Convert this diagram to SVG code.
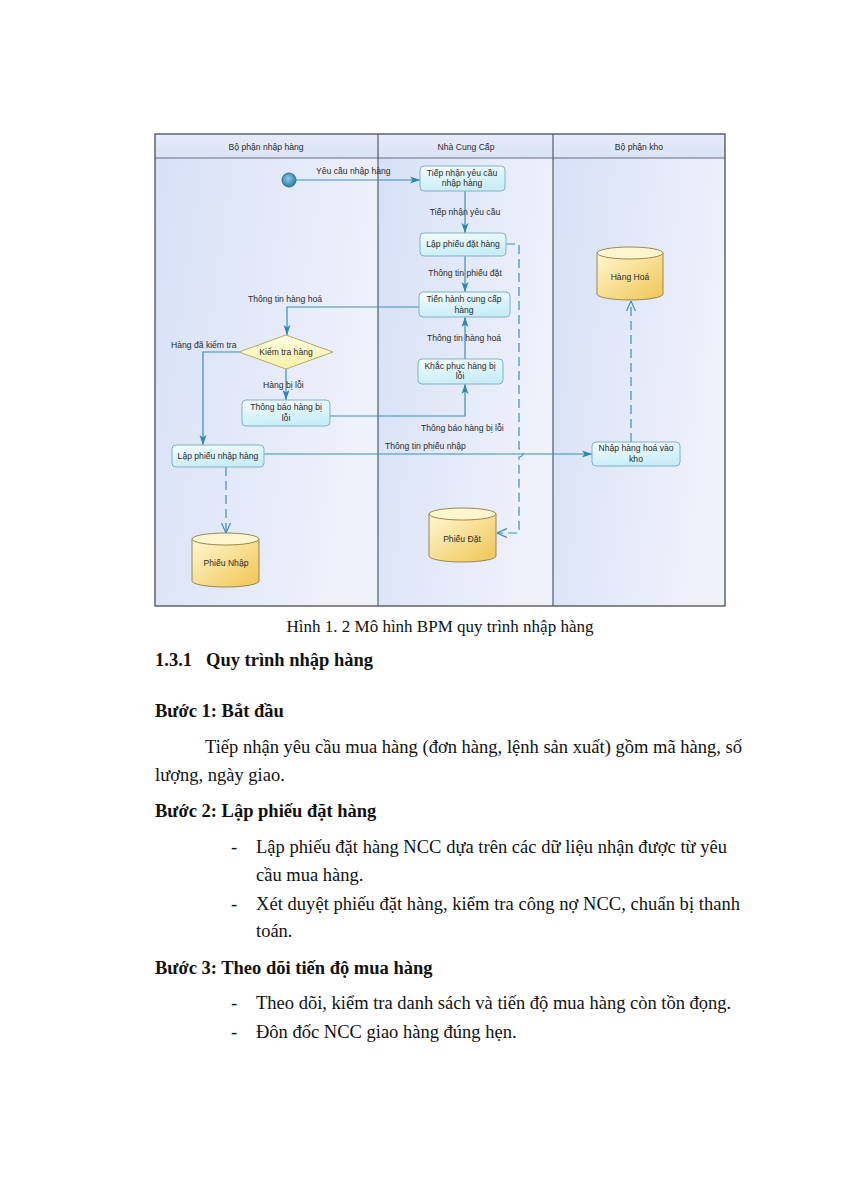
<svg xmlns="http://www.w3.org/2000/svg" width="848" height="1200" viewBox="0 0 848 1200">
<style>
.lbl{font-family:"Liberation Sans","DejaVu Sans",sans-serif;font-size:8.6px;fill:#2b2b2b}
.c{text-anchor:middle}
.box{fill:url(#gBox);stroke:#7fb2c6;stroke-width:1}
.cyl{fill:url(#gCyl);stroke:#8f7d3e;stroke-width:0.9}
.cyltop{fill:#fff6cf;stroke:#8f7d3e;stroke-width:0.9}
.ln{fill:none;stroke:#3a8fb7;stroke-width:1.2}
.dash{fill:none;stroke:#3a8fb7;stroke-width:1.2;stroke-dasharray:9,5}
.doc{font-family:"Liberation Serif","Times New Roman",serif;font-size:18.5px;fill:#111}
.b{font-weight:bold}
</style>
<defs>
<linearGradient id="gLane" x1="0" y1="0" x2="1" y2="0.3">
<stop offset="0" stop-color="#d6e0f6"/><stop offset="1" stop-color="#eff1fb"/>
</linearGradient>
<linearGradient id="gHead" x1="0" y1="0" x2="0" y2="1">
<stop offset="0" stop-color="#e6ebf9"/><stop offset="1" stop-color="#dae2f5"/>
</linearGradient>
<linearGradient id="gBox" x1="0" y1="0" x2="0.3" y2="1">
<stop offset="0" stop-color="#f6fdff"/><stop offset="1" stop-color="#c8edf7"/>
</linearGradient>
<linearGradient id="gCyl" x1="0" y1="0" x2="1" y2="1">
<stop offset="0" stop-color="#fff7d2"/><stop offset="1" stop-color="#f0c553"/>
</linearGradient>
<linearGradient id="gDia" x1="0" y1="0" x2="0" y2="1">
<stop offset="0" stop-color="#fffde0"/><stop offset="1" stop-color="#f8f0a8"/>
</linearGradient>
<radialGradient id="gStart" cx="0.45" cy="0.4" r="0.6">
<stop offset="0" stop-color="#8fcbe0"/><stop offset="1" stop-color="#2c7aa3"/>
</radialGradient>
<marker id="arr" viewBox="0 0 10 8" refX="10" refY="4" markerWidth="10" markerHeight="8" markerUnits="userSpaceOnUse" orient="auto">
<path d="M0,0.5 L10,4 L0,7.5 L2.5,4 Z" fill="#2a86b3"/>
</marker>
<marker id="open" viewBox="0 0 10 10" refX="10" refY="5" markerWidth="10" markerHeight="10" markerUnits="userSpaceOnUse" orient="auto">
<path d="M0,0.5 L10,5 L0,9.5" fill="none" stroke="#3a8fb7" stroke-width="1.2"/>
</marker>
</defs>
<rect x="0" y="0" width="848" height="1200" fill="#ffffff"/>

<g id="pool">
<rect x="155" y="134" width="223" height="472" fill="url(#gLane)"/>
<rect x="378" y="134" width="175" height="472" fill="url(#gLane)"/>
<rect x="553" y="134" width="172" height="472" fill="url(#gLane)"/>
<rect x="155" y="134" width="570" height="24" fill="url(#gHead)"/>
<line x1="155" y1="158" x2="725" y2="158" stroke="#6a6f80" stroke-width="1"/>
<line x1="378" y1="134" x2="378" y2="606" stroke="#555a66" stroke-width="1.2"/>
<line x1="553" y1="134" x2="553" y2="606" stroke="#555a66" stroke-width="1.2"/>
<rect x="155" y="134" width="570" height="472" fill="none" stroke="#4a4d55" stroke-width="1.3"/>
<text class="lbl c" x="266" y="150">Bộ phận nhập hàng</text>
<text class="lbl c" x="466" y="150">Nhà Cung Cấp</text>
<text class="lbl c" x="639" y="150">Bộ phận kho</text>
</g>

<g id="connectors">
<path class="ln" d="M296,180 H420" marker-end="url(#arr)"/>
<path class="ln" d="M465,191 V233" marker-end="url(#arr)"/>
<path class="ln" d="M465,256 V292" marker-end="url(#arr)"/>
<path class="ln" d="M419,307 H287 V335" marker-end="url(#arr)"/>
<path class="ln" d="M239,352 H203 V445" marker-end="url(#arr)"/>
<path class="ln" d="M286,369 V400" marker-end="url(#arr)"/>
<path class="ln" d="M330,416 H465 V384" marker-end="url(#arr)"/>
<path class="ln" d="M465,359 V317" marker-end="url(#arr)"/>
<path class="ln" d="M264,454 H592" marker-end="url(#arr)"/>
<path class="dash" d="M506,244 H519 V449 A4,4 0 0 1 519,457 V533 H497" marker-end="url(#open)"/>
<path class="dash" d="M226,467 V533" marker-end="url(#open)"/>
<path class="dash" d="M631,442 V301" marker-end="url(#open)"/>
<text class="lbl" x="316" y="174">Yêu cầu nhập hàng</text>
<text class="lbl c" x="465" y="215">Tiếp nhận yêu cầu</text>
<text class="lbl c" x="465" y="276">Thông tin phiếu đặt</text>
<text class="lbl" x="248" y="302">Thông tin hàng hoá</text>
<text class="lbl" x="171" y="348">Hàng đã kiểm tra</text>
<text class="lbl" x="263" y="388">Hàng bị lỗi</text>
<text class="lbl" x="427" y="341">Thông tin hàng hoá</text>
<text class="lbl" x="421" y="431">Thông báo hàng bị lỗi</text>
<text class="lbl" x="385" y="449">Thông tin phiếu nhập</text>
</g>

<g id="start">
<circle cx="289" cy="180" r="7" fill="url(#gStart)" stroke="#2a7099" stroke-width="1"/>
</g>

<g id="n1">
<rect class="box" x="420" y="166" width="85" height="25" rx="4"/>
<text class="lbl c" x="462" y="176">Tiếp nhận yêu cầu</text>
<text class="lbl c" x="462" y="186">nhập hàng</text>
</g>
<g id="n2">
<rect class="box" x="420" y="233" width="86" height="23" rx="4"/>
<text class="lbl c" x="463" y="247">Lập phiếu đặt hàng</text>
</g>
<g id="n3">
<rect class="box" x="419" y="292" width="91" height="25" rx="4"/>
<text class="lbl c" x="464" y="302">Tiến hành cung cấp</text>
<text class="lbl c" x="464" y="313">hàng</text>
</g>
<g id="n4">
<rect class="box" x="418" y="359" width="85" height="25" rx="4"/>
<text class="lbl c" x="460" y="369">Khắc phục hàng bị</text>
<text class="lbl c" x="460" y="379">lỗi</text>
</g>
<g id="n5">
<polygon points="286,335 333,352 286,369 239,352" fill="url(#gDia)" stroke="#b5ad6c" stroke-width="1"/>
<text class="lbl c" x="286" y="355">Kiểm tra hàng</text>
</g>
<g id="n6">
<rect class="box" x="242" y="400" width="88" height="26" rx="4"/>
<text class="lbl c" x="286" y="410">Thông báo hàng bị</text>
<text class="lbl c" x="286" y="421">lỗi</text>
</g>
<g id="n7">
<rect class="box" x="172" y="445" width="92" height="22" rx="4"/>
<text class="lbl c" x="218" y="459">Lập phiếu nhập hàng</text>
</g>
<g id="n8">
<rect class="box" x="592" y="442" width="88" height="24" rx="4"/>
<text class="lbl c" x="636" y="451">Nhập hàng hoá vào</text>
<text class="lbl c" x="636" y="462">kho</text>
</g>
<g id="d1">
<path class="cyl" d="M597,253 V294 A33,6 0 0 0 663,294 V253 Z"/>
<ellipse class="cyltop" cx="630" cy="253" rx="33" ry="6"/>
<text class="lbl c" x="630" y="280">Hàng Hoá</text>
</g>
<g id="d2">
<path class="cyl" d="M192,539 V581 A33.5,6 0 0 0 259,581 V539 Z"/>
<ellipse class="cyltop" cx="225.5" cy="539" rx="33.5" ry="6"/>
<text class="lbl c" x="226" y="566">Phiếu Nhập</text>
</g>
<g id="d3">
<path class="cyl" d="M429,514 V556 A33.5,6 0 0 0 496,556 V514 Z"/>
<ellipse class="cyltop" cx="462.5" cy="514" rx="33.5" ry="6"/>
<text class="lbl c" x="462" y="542">Phiếu Đặt</text>
</g>

<g id="text">
<text class="doc" x="440" y="632" text-anchor="middle" style="font-size:17px">Hình 1. 2 Mô hình BPM quy trình nhập hàng</text>
<text class="doc b" x="155" y="666">1.3.1</text>
<text class="doc b" x="206" y="666">Quy trình nhập hàng</text>
<text class="doc b" x="155" y="717">Bước 1: Bắt đầu</text>
<text class="doc" x="205" y="753" textLength="537" lengthAdjust="spacing">Tiếp nhận yêu cầu mua hàng (đơn hàng, lệnh sản xuất) gồm mã hàng, số</text>
<text class="doc" x="155" y="781">lượng, ngày giao.</text>
<text class="doc b" x="155" y="817">Bước 2: Lập phiếu đặt hàng</text>
<text class="doc" x="231" y="853">-</text>
<text class="doc" x="256" y="853" textLength="471" lengthAdjust="spacing">Lập phiếu đặt hàng NCC dựa trên các dữ liệu nhận được từ yêu</text>
<text class="doc" x="256" y="881">cầu mua hàng.</text>
<text class="doc" x="231" y="910">-</text>
<text class="doc" x="256" y="910" textLength="484" lengthAdjust="spacing">Xét duyệt phiếu đặt hàng, kiểm tra công nợ NCC, chuẩn bị thanh</text>
<text class="doc" x="256" y="937">toán.</text>
<text class="doc b" x="155" y="974">Bước 3: Theo dõi tiến độ mua hàng</text>
<text class="doc" x="231" y="1009">-</text>
<text class="doc" x="256" y="1009">Theo dõi, kiểm tra danh sách và tiến độ mua hàng còn tồn đọng.</text>
<text class="doc" x="231" y="1038">-</text>
<text class="doc" x="256" y="1038">Đôn đốc NCC giao hàng đúng hẹn.</text>
</g>
</svg>
